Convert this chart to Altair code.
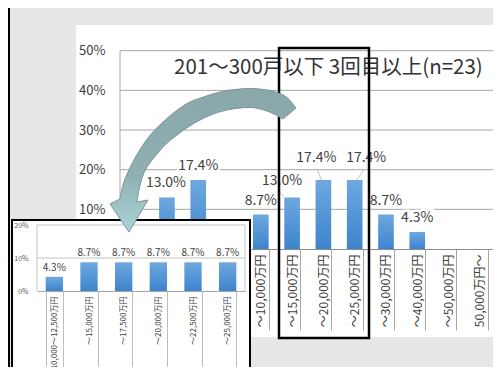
import altair as alt
import pandas as pd

# ---------------- data ----------------
main_categories = ["～4,000万円", "～6,000万円", "～8,000万円", "～9,000万円",
                   "～10,000万円", "～15,000万円", "～20,000万円", "～25,000万円",
                   "～30,000万円", "～40,000万円", "～50,000万円", "50,000万円～"]
main_values = [0.0, 13.0, 17.4, 0.0, 8.7, 13.0, 17.4, 17.4, 8.7, 4.3, 0.0, 0.0]

inset_categories = ["10,000～12,500万円", "～15,000万円", "～17,500万円",
                    "～20,000万円", "～22,500万円", "～25,000万円"]
inset_values = [4.3, 8.7, 8.7, 8.7, 8.7, 8.7]

main_ticks = [10, 20, 30, 40, 50]
inset_ticks = [0, 10, 20]
title_text = "201～300戸以下 3回目以上(n=23)"

# ---------------- layout (page pixels) ----------------
label_dx = [0, -1, 0, 0, 0, -10, -7, 11.5, 0, 0, 0, 0]
label_dy = [-14, -14, -14, -14, -13, -16, -22, -22, -13, -14, -14, -14]
leader_paths = {5: "M-15,-7L-8,-1", 6: "M-6,-10L-2,0", 7: "M9,-10L2,0"}

OX, OY = 76, 25          # view origin on the page
VW, VH = 417, 312        # white slide area
CANVAS_W, CANVAS_H = 485, 359
MAIN_TICK = 81
INSET_TICK = 90


def gx(p):
    return p - OX


def gy(p):
    return p - OY


FONT = "Noto Sans CJK JP"
TXT = "#404040"
GRID = "#a6a6a6"
BAR_FILL = alt.Gradient(
    gradient="linear",
    stops=[alt.GradientStop(color="#6ea8df", offset=0),
           alt.GradientStop(color="#3d84cd", offset=1)],
    x1=0, x2=0, y1=0, y2=1,
)

one = pd.DataFrame({"k": [0]})

# ---------------- main chart ----------------
main_df = pd.DataFrame({"cat": main_categories, "v": main_values,
                        "dx": label_dx, "dy": label_dy})
main_df["label"] = [f"{v:.1f}%" for v in main_values]

mx = alt.Scale(domain=main_categories, range=[gx(120), gx(495.5)],
               paddingInner=0.5, paddingOuter=0.25)
my = alt.Scale(domain=[0, 50], range=[gy(249), gy(50.7)], nice=False, zero=False)

slide_line = alt.Chart(one).mark_rule(color="black", strokeWidth=2).encode(
    x=alt.value(gx(9)), y=alt.value(-OY), y2=alt.value(CANVAS_H))

main_grid = alt.Chart(pd.DataFrame({"t": main_ticks})).mark_rule(
    color=GRID, strokeWidth=1).encode(
    y=alt.Y("t:Q", scale=my, axis=None),
    x=alt.value(gx(120)), x2=alt.value(gx(495.5)))

main_sides = alt.Chart(pd.DataFrame({"xp": [gx(120), gx(495.5)]})).mark_rule(
    color=GRID, strokeWidth=1).encode(
    x=alt.X("xp:Q", scale=None, axis=None),
    y=alt.value(gy(50.7)), y2=alt.value(gy(249)))

title = alt.Chart(one).mark_text(
    text=title_text, align="left", baseline="middle", fontSize=20.5,
    font=FONT, color="#333333").encode(
    x=alt.value(gx(174)), y=alt.value(gy(68)))

main_bars = alt.Chart(main_df).mark_bar(color=BAR_FILL).encode(
    x=alt.X("cat:N", scale=mx, sort=None, title=None,
            axis=alt.Axis(orient="bottom", offset=-(VH - gy(249)), labelAngle=-90,
                          labelFont=FONT, labelFontSize=12, labelColor=TXT,
                          labelPadding=5 - MAIN_TICK, labelOverlap=False,
                          labelLimit=0, labelBound=False,
                          tickBand="extent", tickSize=MAIN_TICK, tickColor=GRID,
                          domainColor="#8c8c8c", grid=False)),
    y=alt.Y("v:Q", scale=my, title=None,
            axis=alt.Axis(orient="left", offset=-gx(120), values=main_ticks,
                          labelExpr="datum.value + '%'", ticks=False, domain=False,
                          grid=False, labelPadding=15, labelFont=FONT,
                          labelFontSize=13, labelColor=TXT)),
)

leader_df = pd.DataFrame({
    "cat": [main_categories[i] for i in leader_paths],
    "v": [main_values[i] for i in leader_paths],
    "path": list(leader_paths.values()),
})
leaders = alt.Chart(leader_df).mark_point(
    filled=False, size=4, strokeWidth=0.8, color="#b0b0b0", opacity=1).encode(
    x=alt.X("cat:N", scale=mx, axis=None),
    y=alt.Y("v:Q", scale=my, axis=None),
    shape=alt.Shape("path:N", scale=None))

label_base = alt.Chart(main_df).transform_filter("datum.v > 0").encode(
    x=alt.X("cat:N", scale=mx, axis=None),
    y=alt.Y("v:Q", scale=my, axis=None),
    text="label:N")
main_halo = label_base.mark_text(
    dx={"expr": "datum.dx"}, dy={"expr": "datum.dy"}, font=FONT, fontSize=14,
    color="white", stroke="white", strokeWidth=5, baseline="middle")
main_labels = label_base.mark_text(
    dx={"expr": "datum.dx"}, dy={"expr": "datum.dy"}, font=FONT, fontSize=14,
    color=TXT, baseline="middle")

highlight = alt.Chart(one).mark_rect(
    fillOpacity=0, stroke="black", strokeWidth=2.5).encode(
    x=alt.value(gx(279)), x2=alt.value(gx(369)),
    y=alt.value(gy(48)), y2=alt.value(gy(338)))

# ---------------- inset chart ----------------
inset_df = pd.DataFrame({"cat": inset_categories, "v": inset_values})
inset_df["label"] = [f"{v:.1f}%" for v in inset_values]

ix = alt.Scale(domain=inset_categories, range=[gx(37), gx(245)],
               paddingInner=0.5, paddingOuter=0.25)
iy = alt.Scale(domain=[0, 20], range=[gy(291), gy(225)], nice=False, zero=False)

inset_box = alt.Chart(one).mark_rect(
    fill="white", stroke="black", strokeWidth=2).encode(
    x=alt.value(gx(12)), x2=alt.value(gx(250)),
    y=alt.value(gy(220)), y2=alt.value(gy(373)))

inset_grid = alt.Chart(pd.DataFrame({"t": inset_ticks[1:]})).mark_rule(
    color="#c4c4c4", strokeWidth=1).encode(
    y=alt.Y("t:Q", scale=iy, axis=None),
    x=alt.value(gx(37)), x2=alt.value(gx(245)))

inset_sides = alt.Chart(pd.DataFrame({"xp": [gx(37), gx(245)]})).mark_rule(
    color="#c4c4c4", strokeWidth=1).encode(
    x=alt.X("xp:Q", scale=None, axis=None),
    y=alt.value(gy(225)), y2=alt.value(gy(291)))

inset_bars = alt.Chart(inset_df).mark_bar(color=BAR_FILL).encode(
    x=alt.X("cat:N", scale=ix, sort=None, title=None,
            axis=alt.Axis(orient="bottom", offset=-(VH - gy(291)), labelAngle=-90,
                          labelFont=FONT, labelFontSize=8, labelColor=TXT,
                          labelPadding=5 - INSET_TICK, labelOverlap=False,
                          labelLimit=0, labelBound=False,
                          tickBand="extent", tickSize=INSET_TICK, tickColor="#bdbdbd",
                          domainColor="#a6a6a6", grid=False, zindex=1)),
    y=alt.Y("v:Q", scale=iy, title=None,
            axis=alt.Axis(orient="left", offset=-gx(37), values=inset_ticks,
                          labelExpr="datum.value + '%'", ticks=False, domain=False,
                          grid=False, labelPadding=9, labelFont=FONT,
                          labelFontSize=7, labelColor="#595959", zindex=1)),
)

inset_labels = alt.Chart(inset_df).mark_text(
    dy=-9, font=FONT, fontSize=10, color=TXT, baseline="middle").encode(
    x=alt.X("cat:N", scale=ix, axis=None),
    y=alt.Y("v:Q", scale=iy, axis=None),
    text="label:N")

# ---------------- curved arrow ----------------
arrow_outer = [(296, 108), (287, 97.5), (277, 92.5), (264, 89.5), (250, 88.5),
               (235, 89.5), (220, 92), (205, 96.5), (190, 102), (176, 111),
               (163, 122), (152, 133), (143, 145), (135, 158), (128, 172),
               (123, 185), (120, 199)]
arrow_head = [(110, 204), (129, 232), (148, 200)]
arrow_inner = [(137, 202), (139, 190), (143, 175), (149, 164), (157, 154),
               (166, 144), (177, 135), (188, 127), (200, 120), (213, 114),
               (227, 110), (240, 108), (252, 107.5), (264, 110), (274, 114),
               (283, 119)]


def smooth(points):
    segs = []
    n = len(points)
    for i in range(n - 1):
        p0 = points[i - 1] if i > 0 else points[i]
        p1 = points[i]
        p2 = points[i + 1]
        p3 = points[i + 2] if i + 2 < n else points[i + 1]
        c1 = (p1[0] + (p2[0] - p0[0]) / 6, p1[1] + (p2[1] - p0[1]) / 6)
        c2 = (p2[0] - (p3[0] - p1[0]) / 6, p2[1] - (p3[1] - p1[1]) / 6)
        segs.append("C%.1f,%.1f,%.1f,%.1f,%.1f,%.1f" % (
            gx(c1[0]), gy(c1[1]), gx(c2[0]), gy(c2[1]), gx(p2[0]), gy(p2[1])))
    return "".join(segs)


def pt(p):
    return "%.1f,%.1f" % (gx(p[0]), gy(p[1]))


arrow_path = ("M" + pt(arrow_outer[0]) + smooth(arrow_outer)
              + "".join("L" + pt(p) for p in arrow_head)
              + "L" + pt(arrow_inner[0]) + smooth(arrow_inner) + "Z")

arrow = alt.Chart(one).mark_point(
    shape=arrow_path, size=4, filled=True, opacity=1,
    fill=alt.Gradient(
        gradient="linear",
        stops=[alt.GradientStop(color="#8aa7aa", offset=0),
               alt.GradientStop(color="#8fb0b3", offset=0.6),
               alt.GradientStop(color="#abd4d8", offset=1)],
        x1=0, x2=0, y1=0, y2=1),
    stroke="#7a9699", strokeWidth=1).encode(
    x=alt.value(0), y=alt.value(0))

chart = alt.layer(
    slide_line, main_grid, main_sides, title, main_bars, leaders,
    main_halo, main_labels, highlight,
    inset_box, inset_grid, inset_sides, inset_bars, inset_labels,
    arrow,
).resolve_scale(x="independent", y="independent").properties(
    width=VW, height=VH,
    padding={"left": OX - 8, "top": OY - 8, "right": 0,
             "bottom": CANVAS_H - (OY - 8) - VH},
    autosize=alt.AutoSizeParams(type="none"),
    background="#e7e7e7",
).configure_view(fill="white", stroke=None)

chart.save("out.html", embed_options={"renderer": "svg", "actions": False})
